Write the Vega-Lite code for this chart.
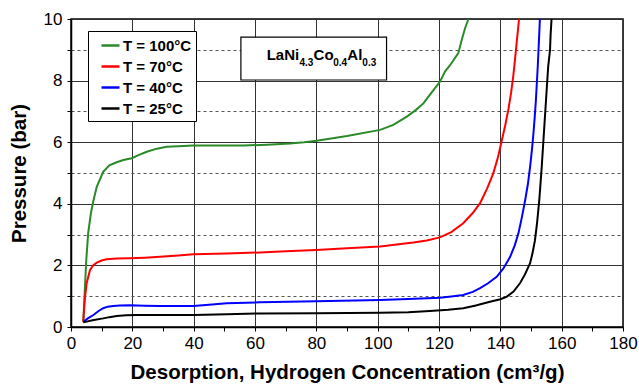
{
  "$schema": "https://vega.github.io/schema/vega-lite/v6.json",
  "width": 552,
  "height": 308,
  "autosize": {"type": "none"},
  "padding": {"left": 71, "top": 19, "right": 16, "bottom": 61},
  "background": "white",
  "config": {
    "font": "Liberation Sans",
    "view": {"stroke": "black", "strokeWidth": 1.5},
    "axis": {
      "domainColor": "black",
      "domainWidth": 1.5,
      "tickColor": "black",
      "tickSize": 4,
      "tickWidth": 1,
      "labelColor": "black",
      "labelFont": "Liberation Sans",
      "labelFontSize": 17,
      "titleFont": "Liberation Sans",
      "titleFontSize": 20.5,
      "titleFontWeight": "bold",
      "titleColor": "black"
    }
  },
  "datasets": {
    "curves": [
      {"s": "T = 100°C", "x": 4.0, "p": 0.17},
      {"s": "T = 100°C", "x": 4.5, "p": 1.2},
      {"s": "T = 100°C", "x": 5.0, "p": 2.2},
      {"s": "T = 100°C", "x": 5.6, "p": 3.05},
      {"s": "T = 100°C", "x": 6.5, "p": 3.7},
      {"s": "T = 100°C", "x": 7.3, "p": 4.1},
      {"s": "T = 100°C", "x": 8.4, "p": 4.55},
      {"s": "T = 100°C", "x": 10.5, "p": 5.04},
      {"s": "T = 100°C", "x": 12.5, "p": 5.25},
      {"s": "T = 100°C", "x": 14.9, "p": 5.35},
      {"s": "T = 100°C", "x": 17.1, "p": 5.42},
      {"s": "T = 100°C", "x": 19.8, "p": 5.48},
      {"s": "T = 100°C", "x": 22.0, "p": 5.58},
      {"s": "T = 100°C", "x": 24.7, "p": 5.69},
      {"s": "T = 100°C", "x": 28.0, "p": 5.79},
      {"s": "T = 100°C", "x": 31.2, "p": 5.85},
      {"s": "T = 100°C", "x": 35.0, "p": 5.87},
      {"s": "T = 100°C", "x": 39.9, "p": 5.89},
      {"s": "T = 100°C", "x": 48.0, "p": 5.89},
      {"s": "T = 100°C", "x": 56.2, "p": 5.89},
      {"s": "T = 100°C", "x": 64.0, "p": 5.92},
      {"s": "T = 100°C", "x": 71.4, "p": 5.96},
      {"s": "T = 100°C", "x": 76.0, "p": 6.0},
      {"s": "T = 100°C", "x": 80.1, "p": 6.05},
      {"s": "T = 100°C", "x": 90.0, "p": 6.2},
      {"s": "T = 100°C", "x": 100.8, "p": 6.4},
      {"s": "T = 100°C", "x": 105.1, "p": 6.56},
      {"s": "T = 100°C", "x": 109.5, "p": 6.83},
      {"s": "T = 100°C", "x": 112.5, "p": 7.05},
      {"s": "T = 100°C", "x": 114.9, "p": 7.26},
      {"s": "T = 100°C", "x": 117.5, "p": 7.6},
      {"s": "T = 100°C", "x": 120.3, "p": 7.96},
      {"s": "T = 100°C", "x": 122.0, "p": 8.3},
      {"s": "T = 100°C", "x": 123.6, "p": 8.5},
      {"s": "T = 100°C", "x": 126.3, "p": 8.89},
      {"s": "T = 100°C", "x": 127.4, "p": 9.32},
      {"s": "T = 100°C", "x": 128.5, "p": 9.7},
      {"s": "T = 100°C", "x": 129.6, "p": 10.0},
      {"s": "T = 70°C", "x": 4.0, "p": 0.17},
      {"s": "T = 70°C", "x": 4.5, "p": 0.9},
      {"s": "T = 70°C", "x": 5.1, "p": 1.42},
      {"s": "T = 70°C", "x": 6.2, "p": 1.85},
      {"s": "T = 70°C", "x": 7.2, "p": 2.0},
      {"s": "T = 70°C", "x": 8.4, "p": 2.09},
      {"s": "T = 70°C", "x": 10.0, "p": 2.16},
      {"s": "T = 70°C", "x": 11.6, "p": 2.2},
      {"s": "T = 70°C", "x": 15.0, "p": 2.22},
      {"s": "T = 70°C", "x": 19.2, "p": 2.23},
      {"s": "T = 70°C", "x": 24.0, "p": 2.25},
      {"s": "T = 70°C", "x": 29.0, "p": 2.28},
      {"s": "T = 70°C", "x": 35.0, "p": 2.32},
      {"s": "T = 70°C", "x": 39.9, "p": 2.36},
      {"s": "T = 70°C", "x": 50.8, "p": 2.39},
      {"s": "T = 70°C", "x": 61.6, "p": 2.42},
      {"s": "T = 70°C", "x": 70.0, "p": 2.46},
      {"s": "T = 70°C", "x": 80.0, "p": 2.5},
      {"s": "T = 70°C", "x": 90.0, "p": 2.56},
      {"s": "T = 70°C", "x": 100.8, "p": 2.61},
      {"s": "T = 70°C", "x": 111.6, "p": 2.74},
      {"s": "T = 70°C", "x": 116.0, "p": 2.81},
      {"s": "T = 70°C", "x": 120.3, "p": 2.91},
      {"s": "T = 70°C", "x": 124.0, "p": 3.08},
      {"s": "T = 70°C", "x": 127.9, "p": 3.37},
      {"s": "T = 70°C", "x": 131.0, "p": 3.7},
      {"s": "T = 70°C", "x": 133.4, "p": 4.02},
      {"s": "T = 70°C", "x": 135.7, "p": 4.5},
      {"s": "T = 70°C", "x": 137.7, "p": 4.99},
      {"s": "T = 70°C", "x": 139.2, "p": 5.5},
      {"s": "T = 70°C", "x": 140.4, "p": 6.02},
      {"s": "T = 70°C", "x": 141.6, "p": 6.55},
      {"s": "T = 70°C", "x": 142.6, "p": 7.05},
      {"s": "T = 70°C", "x": 143.5, "p": 7.6},
      {"s": "T = 70°C", "x": 144.2, "p": 8.13},
      {"s": "T = 70°C", "x": 144.8, "p": 8.7},
      {"s": "T = 70°C", "x": 145.3, "p": 9.21},
      {"s": "T = 70°C", "x": 145.7, "p": 9.6},
      {"s": "T = 70°C", "x": 146.1, "p": 10.0},
      {"s": "T = 40°C", "x": 4.0, "p": 0.17},
      {"s": "T = 40°C", "x": 5.5, "p": 0.28},
      {"s": "T = 40°C", "x": 7.3, "p": 0.39},
      {"s": "T = 40°C", "x": 9.0, "p": 0.52},
      {"s": "T = 40°C", "x": 10.5, "p": 0.61},
      {"s": "T = 40°C", "x": 12.0, "p": 0.66},
      {"s": "T = 40°C", "x": 13.8, "p": 0.68},
      {"s": "T = 40°C", "x": 16.0, "p": 0.7},
      {"s": "T = 40°C", "x": 19.2, "p": 0.71},
      {"s": "T = 40°C", "x": 24.0, "p": 0.69},
      {"s": "T = 40°C", "x": 29.0, "p": 0.68},
      {"s": "T = 40°C", "x": 39.9, "p": 0.68},
      {"s": "T = 40°C", "x": 45.0, "p": 0.72},
      {"s": "T = 40°C", "x": 50.8, "p": 0.77},
      {"s": "T = 40°C", "x": 61.6, "p": 0.8},
      {"s": "T = 40°C", "x": 80.0, "p": 0.84},
      {"s": "T = 40°C", "x": 100.8, "p": 0.88},
      {"s": "T = 40°C", "x": 110.0, "p": 0.91},
      {"s": "T = 40°C", "x": 120.3, "p": 0.95},
      {"s": "T = 40°C", "x": 124.0, "p": 0.99},
      {"s": "T = 40°C", "x": 127.9, "p": 1.04},
      {"s": "T = 40°C", "x": 131.0, "p": 1.14},
      {"s": "T = 40°C", "x": 133.4, "p": 1.26},
      {"s": "T = 40°C", "x": 136.0, "p": 1.42},
      {"s": "T = 40°C", "x": 138.8, "p": 1.63},
      {"s": "T = 40°C", "x": 141.0, "p": 1.9},
      {"s": "T = 40°C", "x": 143.2, "p": 2.28},
      {"s": "T = 40°C", "x": 144.7, "p": 2.65},
      {"s": "T = 40°C", "x": 145.9, "p": 3.04},
      {"s": "T = 40°C", "x": 147.0, "p": 3.55},
      {"s": "T = 40°C", "x": 148.1, "p": 4.12},
      {"s": "T = 40°C", "x": 149.0, "p": 4.65},
      {"s": "T = 40°C", "x": 149.7, "p": 5.2},
      {"s": "T = 40°C", "x": 150.3, "p": 5.75},
      {"s": "T = 40°C", "x": 150.8, "p": 6.29},
      {"s": "T = 40°C", "x": 151.2, "p": 6.8},
      {"s": "T = 40°C", "x": 151.6, "p": 7.37},
      {"s": "T = 40°C", "x": 152.2, "p": 8.45},
      {"s": "T = 40°C", "x": 152.7, "p": 9.54},
      {"s": "T = 40°C", "x": 152.9, "p": 10.0},
      {"s": "T = 25°C", "x": 4.0, "p": 0.15},
      {"s": "T = 25°C", "x": 7.0, "p": 0.22},
      {"s": "T = 25°C", "x": 10.5, "p": 0.28},
      {"s": "T = 25°C", "x": 12.5, "p": 0.32},
      {"s": "T = 25°C", "x": 14.9, "p": 0.36},
      {"s": "T = 25°C", "x": 18.0, "p": 0.38},
      {"s": "T = 25°C", "x": 21.4, "p": 0.39},
      {"s": "T = 25°C", "x": 40.0, "p": 0.39},
      {"s": "T = 25°C", "x": 50.8, "p": 0.41},
      {"s": "T = 25°C", "x": 61.6, "p": 0.44},
      {"s": "T = 25°C", "x": 80.0, "p": 0.45},
      {"s": "T = 25°C", "x": 100.8, "p": 0.46},
      {"s": "T = 25°C", "x": 110.0, "p": 0.48},
      {"s": "T = 25°C", "x": 117.0, "p": 0.52},
      {"s": "T = 25°C", "x": 123.0, "p": 0.56},
      {"s": "T = 25°C", "x": 127.9, "p": 0.61},
      {"s": "T = 25°C", "x": 132.0, "p": 0.7},
      {"s": "T = 25°C", "x": 136.6, "p": 0.82},
      {"s": "T = 25°C", "x": 140.0, "p": 0.9},
      {"s": "T = 25°C", "x": 142.0, "p": 0.98},
      {"s": "T = 25°C", "x": 144.3, "p": 1.15},
      {"s": "T = 25°C", "x": 146.4, "p": 1.42},
      {"s": "T = 25°C", "x": 148.0, "p": 1.7},
      {"s": "T = 25°C", "x": 149.7, "p": 2.07},
      {"s": "T = 25°C", "x": 150.5, "p": 2.4},
      {"s": "T = 25°C", "x": 151.3, "p": 2.82},
      {"s": "T = 25°C", "x": 152.0, "p": 3.4},
      {"s": "T = 25°C", "x": 152.7, "p": 4.12},
      {"s": "T = 25°C", "x": 153.5, "p": 5.2},
      {"s": "T = 25°C", "x": 154.2, "p": 6.29},
      {"s": "T = 25°C", "x": 154.9, "p": 7.37},
      {"s": "T = 25°C", "x": 155.6, "p": 8.45},
      {"s": "T = 25°C", "x": 156.2, "p": 8.99},
      {"s": "T = 25°C", "x": 156.4, "p": 9.5},
      {"s": "T = 25°C", "x": 156.7, "p": 10.0}
    ]
  },
  "encoding": {
    "x": {
      "field": "x",
      "type": "quantitative",
      "scale": {"domain": [0, 180], "nice": false, "zero": false},
      "axis": {
        "title": "Desorption, Hydrogen Concentration (cm³/g)",
        "values": [0, 10, 20, 30, 40, 50, 60, 70, 80, 90, 100, 110, 120, 130, 140, 150, 160, 170, 180],
        "labelExpr": "datum.value % 20 === 0 ? datum.label : ''",
        "labelPadding": 4,
        "labelFlush": false,
        "titlePadding": 11,
        "grid": true,
        "gridColor": "#333333",
        "gridWidth": 1,
        "gridOpacity": {"condition": {"test": "datum.value % 20 !== 0", "value": 0}, "value": 1}
      }
    },
    "y": {
      "field": "p",
      "type": "quantitative",
      "scale": {"domain": [0, 10], "nice": false},
      "axis": {
        "title": "Pressure (bar)",
        "values": [0, 1, 2, 3, 4, 5, 6, 7, 8, 9, 10],
        "labelExpr": "datum.value % 2 === 0 ? datum.label : ''",
        "labelPadding": 5,
        "labelFlush": false,
        "titlePadding": 14,
        "grid": true,
        "gridWidth": 1,
        "gridColor": {"condition": {"test": "datum.value % 2 === 1", "value": "#555555"}, "value": "#333333"},
        "gridDash": {"condition": {"test": "datum.value % 2 === 1", "value": [3, 3]}, "value": []}
      }
    }
  },
  "layer": [
    {
      "data": {"name": "curves"},
      "mark": {"type": "line", "strokeWidth": 2},
      "encoding": {
        "color": {
          "field": "s",
          "type": "nominal",
          "scale": {
            "domain": ["T = 100°C", "T = 70°C", "T = 40°C", "T = 25°C"],
            "range": ["#2a8a2a", "#ff0000", "#0000ff", "#000000"]
          },
          "legend": {
            "title": null,
            "orient": "none",
            "legendX": 17,
            "legendY": 12,
            "strokeColor": "black",
            "fillColor": "white",
            "padding": 4,
            "symbolType": "stroke",
            "symbolSize": 324,
            "symbolStrokeWidth": 2.5,
            "symbolOffset": 8,
            "labelOffset": 2,
            "labelFont": "Liberation Sans",
            "labelFontSize": 15,
            "labelFontWeight": "bold",
            "labelColor": "black",
            "rowPadding": 2
          }
        }
      }
    },
    {
      "data": {"values": [{"x": 55.4, "x2": 102.9, "p": 9.41, "p2": 8.02}]},
      "mark": {"type": "rect", "fill": "white", "stroke": "black", "strokeWidth": 1.2},
      "encoding": {
        "x2": {"field": "x2"},
        "y2": {"field": "p2"}
      }
    },
    {
      "data": {"values": [
        {"x": 63.8, "p": 8.67, "t": "LaNi"},
        {"x": 79.1, "p": 8.67, "t": "Co"},
        {"x": 90.1, "p": 8.67, "t": "Al"}
      ]},
      "mark": {"type": "text", "align": "left", "baseline": "alphabetic", "fontSize": 15, "fontWeight": "bold", "font": "Liberation Sans", "color": "black"},
      "encoding": {"text": {"field": "t"}}
    },
    {
      "data": {"values": [
        {"x": 74.5, "p": 8.47, "t": "4.3"},
        {"x": 85.5, "p": 8.47, "t": "0.4"},
        {"x": 95.0, "p": 8.47, "t": "0.3"}
      ]},
      "mark": {"type": "text", "align": "left", "baseline": "alphabetic", "fontSize": 10, "fontWeight": "bold", "font": "Liberation Sans", "color": "black"},
      "encoding": {"text": {"field": "t"}}
    }
  ]
}
